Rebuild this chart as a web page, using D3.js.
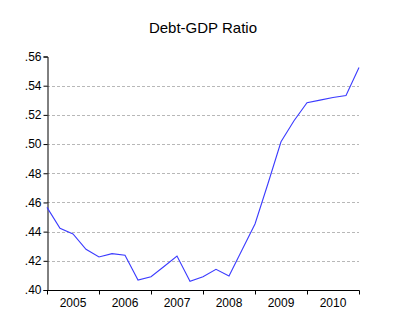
<!DOCTYPE html>
<html><head><meta charset="utf-8">
<script src="https://cdn.jsdelivr.net/npm/d3@7"></script>
<style>body{margin:0;background:#fff}svg{display:block}</style>
</head><body>
<svg id="c" width="395" height="330"></svg>
<script>
const title = "Debt-GDP Ratio";
const years = ["2005","2006","2007","2008","2009","2010"];
const yTicks = [0.40,0.42,0.44,0.46,0.48,0.50,0.52,0.54,0.56];
const ratio = [0.4566,0.4423,0.4384,0.4279,0.4226,0.4249,0.4238,0.4068,0.4091,0.4161,
               0.4233,0.4060,0.4091,0.4142,0.4096,0.4274,0.4452,0.4730,0.5016,0.5160,
               0.5283,0.5301,0.5319,0.5333,0.5525];

const svg = d3.select("#c");
const L=47,R=359,T=56.5,B=290;
const x = d3.scaleLinear().domain([0,24]).range([L,R]);
const y = d3.scaleLinear().domain([0.40,0.56]).range([B,T]);
const font = "'Liberation Sans', Arial, sans-serif";

svg.append("text").attr("x",203).attr("y",33).attr("text-anchor","middle")
  .attr("font-family",font).attr("font-size",15).attr("fill","#000").text(title);

// grid
svg.append("g").selectAll("line").data(yTicks.filter(v=>v>0.401&&v<0.559)).join("line")
  .attr("x1",L).attr("x2",R).attr("y1",d=>Math.round(y(d))+0.5).attr("y2",d=>Math.round(y(d))+0.5)
  .attr("stroke","#b8b8b8").attr("stroke-dasharray","3,2").attr("stroke-width",1);

// y axis
const ya = svg.append("g").attr("transform",`translate(${L+0.5},0)`)
  .call(d3.axisLeft(y).tickValues(yTicks).tickSize(4).tickPadding(2)
  .tickFormat(d=>d3.format(".2f")(d).replace(/^0/,"")));
ya.select(".domain").attr("stroke","#000");
ya.selectAll(".tick line").attr("stroke","#000");
ya.selectAll("text").attr("font-family",font).attr("font-size",12).attr("fill","#000");

// x axis
const xb = d3.scaleLinear().domain([0,6]).range([L,R]);
const xa = svg.append("g").attr("transform",`translate(0,${B+0.5})`)
  .call(d3.axisBottom(xb).ticks(6).tickSize(4).tickFormat(""));
xa.select(".domain").attr("stroke","#000").attr("d",`M${L},0H${R+0.5}`);
xa.selectAll(".tick line").attr("stroke","#000");
svg.append("g").selectAll("text").data(years).join("text")
  .attr("x",(d,i)=>xb(i+0.5)).attr("y",B+17).attr("text-anchor","middle")
  .attr("font-family",font).attr("font-size",12).attr("fill","#000").text(d=>d);

// line
svg.append("path").datum(ratio)
  .attr("d",d3.line().x((d,i)=>x(i)).y(d=>y(d)))
  .attr("fill","none").attr("stroke","#3b3bff").attr("stroke-width",1.1);
</script>
</body></html>
